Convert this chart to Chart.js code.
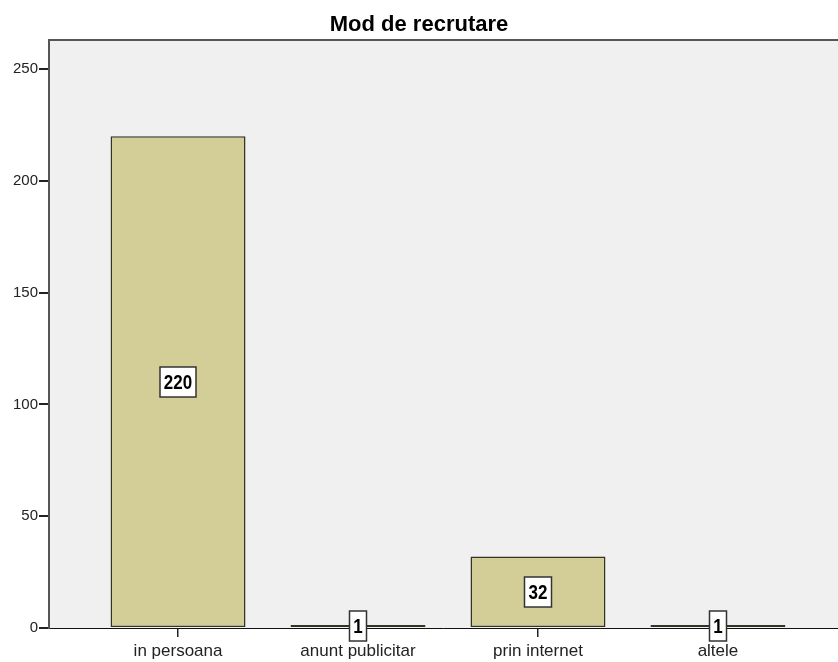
<!DOCTYPE html>
<html>
<head>
<meta charset="utf-8">
<script src="https://cdn.jsdelivr.net/npm/chart.js@4/dist/chart.umd.min.js"></script>
<style>
  html, body { margin: 0; padding: 0; background: #fff; }
  #wrap { width: 838px; height: 662px; }
</style>
</head>
<body>
<div id="wrap"><canvas id="chart"></canvas></div>
<script>
// data
const categories = ['in persoana', 'anunt publicitar', 'prin internet', 'altele'];
const counts = [220, 1, 32, 1];
const yTicks = [0, 50, 100, 150, 200, 250];

const FONT = '"Liberation Sans", Arial, sans-serif';

// grey plot background + left/top frame
const plotFrame = {
  id: 'plotFrame',
  beforeDraw(chart) {
    const {ctx, chartArea: a} = chart;
    ctx.save();
    ctx.fillStyle = '#f0f0f0';
    ctx.fillRect(a.left, a.top, a.right - a.left, a.bottom - a.top);
    ctx.strokeStyle = '#555';
    ctx.lineWidth = 2;
    ctx.beginPath();
    ctx.moveTo(a.left, a.bottom);
    ctx.lineTo(a.left, a.top);
    ctx.lineTo(a.right, a.top);
    ctx.stroke();
    ctx.restore();
  },
};

// boxed value labels in the middle of each bar (text squeezed a bit, like the SPSS narrow font)
const SQUEEZE = 0.85;
const boxLabels = {
  id: 'boxLabels',
  afterDatasetsDraw(chart) {
    const {ctx} = chart;
    const meta = chart.getDatasetMeta(0);
    ctx.save();
    ctx.font = 'bold 20px ' + FONT;
    ctx.textAlign = 'center';
    ctx.textBaseline = 'middle';
    meta.data.forEach((bar, i) => {
      const txt = String(counts[i]);
      const cx = Math.round(bar.x);
      const cy = Math.round((bar.y + bar.base) / 2);
      const w = Math.round(ctx.measureText(txt).width * SQUEEZE + 8);
      const h = 30;
      ctx.fillStyle = '#fff';
      ctx.fillRect(cx - w / 2, cy - h / 2, w, h);
      ctx.strokeStyle = '#333';
      ctx.lineWidth = 1.5;
      ctx.strokeRect(cx - w / 2, cy - h / 2, w, h);
      ctx.save();
      ctx.translate(cx, cy + 1);
      ctx.scale(SQUEEZE, 1);
      ctx.fillStyle = '#000';
      ctx.fillText(txt, 0, 0);
      ctx.restore();
    });
    ctx.restore();
  },
};

new Chart(document.getElementById('chart'), {
  type: 'bar',
  data: {
    datasets: [{
      data: counts.map((v, i) => ({x: i, y: v})),
      backgroundColor: '#d3ce97',
      borderColor: '#333326',
      borderWidth: 1.5,
      borderSkipped: false,
      barPercentage: 0.75,
      categoryPercentage: 1,
      minBarLength: 3,
    }],
  },
  options: {
    responsive: true,
    maintainAspectRatio: false,
    animation: false,
    layout: {padding: 0},
    plugins: {
      legend: {display: false},
      tooltip: {enabled: false},
      title: {
        display: true,
        text: 'Mod de recrutare',
        color: '#000',
        font: {family: FONT, size: 22, weight: 'bold', lineHeight: '22px'},
        padding: {top: 14, bottom: 4},
      },
    },
    scales: {
      x: {
        type: 'linear',
        offset: false,
        min: -0.717,
        max: 3.667,
        afterBuildTicks: (s) => { s.ticks = categories.map((c, i) => ({value: i})); },
        afterFit: (s) => { s.height = 34; },
        grid: {display: true, offset: false, drawOnChartArea: false, drawTicks: true, tickLength: 9, color: '#222', lineWidth: 1.5},
        border: {display: true, color: '#111', width: 1},
        ticks: {
          callback: (v) => categories[v],
          color: '#222',
          padding: 4,
          maxRotation: 0,
          autoSkip: false,
          font: {family: FONT, size: 17},
        },
      },
      y: {
        min: 0,
        max: 263,
        afterBuildTicks: (s) => { s.ticks = yTicks.map((v) => ({value: v})); },
        afterFit: (s) => { s.width = 49; },
        grid: {display: true, drawOnChartArea: false, drawTicks: true, tickLength: 10, color: '#222', lineWidth: 2},
        border: {display: true, color: '#555', width: 2},
        ticks: {
          color: '#222',
          padding: 1,
          font: {family: FONT, size: 15},
        },
      },
    },
  },
  plugins: [plotFrame, boxLabels],
});
</script>
</body>
</html>
